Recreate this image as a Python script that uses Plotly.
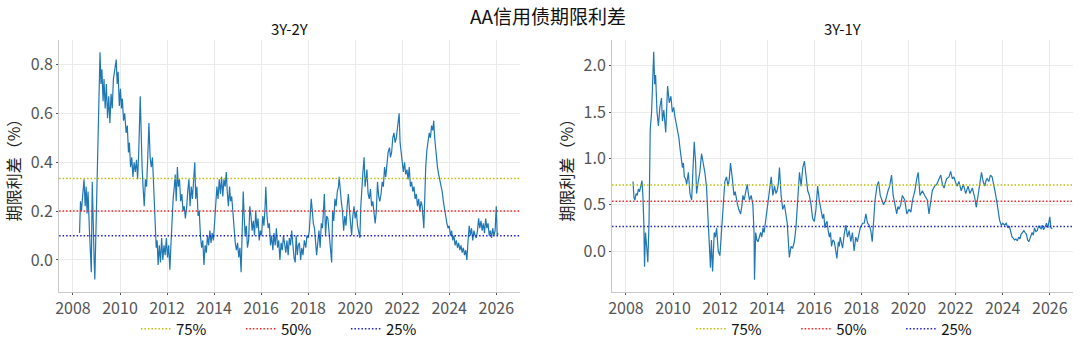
import plotly.graph_objects as go

# ---------------- data ----------------
title_main = "AA信用债期限利差"
panel_titles = ["3Y-2Y", "3Y-1Y"]
y_title = "期限利差（%）"
pct_names = ["75%", "50%", "25%"]
pct_colors = ["#bfbf00", "#ff2020", "#2020d0"]

# percentile levels
pct_left = [0.333, 0.200, 0.099]
pct_right = [0.712, 0.536, 0.266]

# 3Y-2Y (decimal year, %)
left_x = [
    2008.28, 2008.32, 2008.36, 2008.42, 2008.47, 2008.52, 2008.56, 2008.60, 2008.64, 2008.70,
    2008.74, 2008.78, 2008.82, 2008.86, 2008.90, 2008.93, 2008.97, 2009.02, 2009.06, 2009.10,
    2009.15, 2009.19, 2009.23, 2009.28, 2009.32, 2009.37, 2009.42, 2009.47, 2009.52, 2009.57,
    2009.62, 2009.67, 2009.72, 2009.78, 2009.84, 2009.88, 2009.92, 2009.97, 2010.02, 2010.06,
    2010.10, 2010.15, 2010.20, 2010.26, 2010.31, 2010.36, 2010.40, 2010.45, 2010.50, 2010.55,
    2010.60, 2010.65, 2010.70, 2010.75, 2010.80, 2010.86, 2010.90, 2010.94, 2010.98, 2011.03,
    2011.08, 2011.13, 2011.18, 2011.23, 2011.28, 2011.33, 2011.38, 2011.42, 2011.46, 2011.50,
    2011.54, 2011.58, 2011.62, 2011.67, 2011.72, 2011.77, 2011.82, 2011.87, 2011.92, 2011.97,
    2012.02, 2012.07, 2012.12, 2012.16, 2012.21, 2012.26, 2012.31, 2012.35, 2012.39, 2012.44,
    2012.48, 2012.53, 2012.58, 2012.63, 2012.68, 2012.73, 2012.78, 2012.83, 2012.88, 2012.93,
    2012.98, 2013.03, 2013.08, 2013.13, 2013.18, 2013.22, 2013.27, 2013.32, 2013.37, 2013.42,
    2013.47, 2013.52, 2013.57, 2013.62, 2013.67, 2013.72, 2013.77, 2013.82, 2013.87, 2013.92,
    2013.97, 2014.02, 2014.07, 2014.12, 2014.17, 2014.22, 2014.27, 2014.32, 2014.37, 2014.42,
    2014.47, 2014.52, 2014.56, 2014.61, 2014.66, 2014.70, 2014.75, 2014.80, 2014.85, 2014.90,
    2014.95, 2015.00, 2015.05, 2015.10, 2015.15, 2015.20, 2015.24, 2015.28, 2015.32, 2015.37,
    2015.42, 2015.47, 2015.52, 2015.57, 2015.62, 2015.67, 2015.72, 2015.77, 2015.82, 2015.87,
    2015.92, 2015.97, 2016.02, 2016.07, 2016.12, 2016.17, 2016.20, 2016.25, 2016.30, 2016.35,
    2016.40, 2016.45, 2016.50, 2016.55, 2016.60, 2016.65, 2016.70, 2016.75, 2016.80, 2016.85,
    2016.90, 2016.95, 2017.00, 2017.05, 2017.10, 2017.15, 2017.20, 2017.25, 2017.30, 2017.35,
    2017.40, 2017.45, 2017.49, 2017.54, 2017.58, 2017.63, 2017.68, 2017.73, 2017.78, 2017.84,
    2017.90, 2017.95, 2018.00, 2018.05, 2018.10, 2018.13, 2018.18, 2018.22, 2018.27, 2018.32,
    2018.36, 2018.41, 2018.46, 2018.51, 2018.56, 2018.61, 2018.66, 2018.69, 2018.74, 2018.79,
    2018.84, 2018.89, 2018.95, 2019.00, 2019.04, 2019.09, 2019.14, 2019.19, 2019.24, 2019.29,
    2019.32, 2019.36, 2019.41, 2019.46, 2019.51, 2019.56, 2019.61, 2019.66, 2019.71, 2019.76,
    2019.80, 2019.85, 2019.90, 2019.95, 2020.00, 2020.05, 2020.10, 2020.15, 2020.20, 2020.24,
    2020.28, 2020.33, 2020.38, 2020.42, 2020.46, 2020.50, 2020.55, 2020.60, 2020.65, 2020.70,
    2020.75, 2020.80, 2020.85, 2020.90, 2020.95, 2021.00, 2021.05, 2021.10, 2021.15, 2021.20,
    2021.25, 2021.30, 2021.35, 2021.40, 2021.46, 2021.50, 2021.55, 2021.60, 2021.65, 2021.70,
    2021.75, 2021.80, 2021.87, 2021.91, 2021.95, 2022.00, 2022.05, 2022.10, 2022.15, 2022.20,
    2022.25, 2022.30, 2022.35, 2022.40, 2022.45, 2022.50, 2022.55, 2022.60, 2022.65, 2022.70,
    2022.75, 2022.80, 2022.85, 2022.92, 2022.96, 2023.00, 2023.05, 2023.10, 2023.15, 2023.20,
    2023.25, 2023.30, 2023.34, 2023.38, 2023.42, 2023.46, 2023.50, 2023.55, 2023.60, 2023.65,
    2023.70, 2023.75, 2023.80, 2023.85, 2023.90, 2023.95, 2024.00, 2024.05, 2024.10, 2024.15,
    2024.20, 2024.25, 2024.30, 2024.35, 2024.40, 2024.45, 2024.50, 2024.55, 2024.60, 2024.65,
    2024.70, 2024.75, 2024.80, 2024.85, 2024.90, 2024.95, 2025.00, 2025.05, 2025.10, 2025.15,
    2025.20, 2025.25, 2025.30, 2025.35, 2025.40, 2025.45, 2025.50, 2025.55, 2025.60, 2025.65,
    2025.70, 2025.75, 2025.80, 2025.85, 2025.90, 2025.95, 2026.00, 2026.04, 2026.08,
]
left_y = [
    0.11, 0.24, 0.20, 0.27, 0.33, 0.22, 0.30, 0.19, 0.28, 0.12,
    0.03, -0.05, 0.32, 0.10, 0.00, -0.08, 0.10, 0.36, 0.52, 0.73,
    0.85, 0.72, 0.78, 0.65, 0.74, 0.62, 0.72, 0.58, 0.67, 0.56,
    0.68, 0.62, 0.74, 0.78, 0.82, 0.72, 0.77, 0.63, 0.70, 0.62,
    0.66, 0.57, 0.60, 0.52, 0.55, 0.44, 0.48, 0.38, 0.42, 0.34,
    0.40, 0.36, 0.41, 0.33, 0.45, 0.67, 0.50, 0.38, 0.30, 0.22,
    0.33, 0.30, 0.42, 0.56, 0.42, 0.38, 0.42, 0.33, 0.25, 0.12,
    0.05, 0.08, -0.02, 0.06, -0.01, 0.09, 0.00, 0.06, 0.02, 0.09,
    0.01, 0.06, -0.04, 0.05, 0.18, 0.25, 0.30, 0.35, 0.24, 0.38,
    0.30, 0.33, 0.24, 0.27, 0.20, 0.22, 0.17, 0.21, 0.28, 0.33,
    0.22, 0.30, 0.25, 0.35, 0.40, 0.25, 0.30, 0.18, 0.20, 0.10,
    0.05, 0.08, -0.02, 0.06, 0.03, 0.10, 0.06, 0.12, 0.07, 0.11,
    0.08, 0.15, 0.22, 0.30, 0.25, 0.33, 0.27, 0.34, 0.26, 0.33,
    0.30, 0.36, 0.28, 0.22, 0.30, 0.24, 0.26, 0.18, 0.12, 0.07,
    0.04, 0.07, 0.01, 0.05, -0.05, 0.10, 0.28, 0.18, 0.10, 0.14,
    0.05, 0.08, 0.22, 0.18, 0.12, 0.16, 0.10, 0.20, 0.13, 0.17,
    0.08, 0.12, 0.10, 0.18, 0.14, 0.22, 0.30, 0.18, 0.13, 0.15,
    0.06, 0.10, 0.04, 0.11, 0.06, 0.13, 0.05, 0.08, 0.00, 0.07,
    0.04, 0.10, 0.05, 0.03, 0.08, 0.02, 0.09, 0.06, 0.12, 0.05,
    0.01, -0.01, 0.10, 0.02, 0.06, 0.07, 0.00, 0.05, 0.02, 0.08,
    0.05, 0.10, 0.09, 0.12, 0.20, 0.25, 0.20, 0.15, 0.13, 0.06,
    0.02, 0.07, 0.12, 0.05, 0.15, 0.13, 0.20, 0.27, 0.10, 0.18,
    0.17, 0.12, 0.05, -0.01, 0.20, 0.16, 0.25, 0.22, 0.28, 0.30,
    0.34, 0.28, 0.24, 0.20, 0.12, 0.18, 0.14, 0.22, 0.27, 0.20,
    0.16, 0.10, 0.18, 0.22, 0.17, 0.20, 0.14, 0.12, 0.09, 0.22,
    0.30, 0.36, 0.42, 0.30, 0.33, 0.37, 0.27, 0.25, 0.29, 0.22,
    0.24, 0.18, 0.15, 0.20, 0.32, 0.26, 0.24, 0.27, 0.32, 0.30,
    0.38, 0.34, 0.40, 0.44, 0.46, 0.42, 0.44, 0.50, 0.52, 0.48,
    0.50, 0.55, 0.60, 0.48, 0.44, 0.40, 0.36, 0.40, 0.35, 0.37,
    0.33, 0.38, 0.30, 0.32, 0.28, 0.30, 0.25, 0.27, 0.22, 0.25,
    0.20, 0.24, 0.22, 0.13, 0.30, 0.38, 0.45, 0.48, 0.52, 0.50,
    0.55, 0.53, 0.57, 0.50, 0.45, 0.40, 0.38, 0.35, 0.33, 0.30,
    0.28, 0.24, 0.20, 0.18, 0.15, 0.13, 0.14, 0.10, 0.12, 0.08,
    0.10, 0.06, 0.08, 0.05, 0.07, 0.04, 0.06, 0.03, 0.05, 0.02,
    0.04, 0.00, 0.08, 0.14, 0.10, 0.13, 0.08, 0.12, 0.10, 0.09,
    0.12, 0.17, 0.13, 0.16, 0.12, 0.15, 0.11, 0.17, 0.13, 0.15,
    0.10, 0.12, 0.09, 0.13, 0.10, 0.12, 0.22, 0.10, 0.11,
]

# 3Y-1Y (decimal year, %)
right_x = [
    2008.30, 2008.34, 2008.38, 2008.43, 2008.48, 2008.53, 2008.58, 2008.63, 2008.68, 2008.72,
    2008.76, 2008.79, 2008.83, 2008.88, 2008.93, 2008.98, 2009.03, 2009.09, 2009.13, 2009.18,
    2009.22, 2009.26, 2009.32, 2009.38, 2009.44, 2009.51, 2009.55, 2009.61, 2009.69, 2009.77,
    2009.84, 2009.91, 2009.97, 2010.03, 2010.08, 2010.14, 2010.20, 2010.25, 2010.30, 2010.35,
    2010.40, 2010.44, 2010.48, 2010.53, 2010.58, 2010.65,
    2010.72, 2010.79, 2010.86, 2010.90, 2010.96, 2011.00, 2011.07, 2011.14, 2011.21, 2011.28,
    2011.35, 2011.42, 2011.49, 2011.55, 2011.59, 2011.63, 2011.68, 2011.75, 2011.80, 2011.85,
    2011.92, 2011.99, 2012.06, 2012.13, 2012.20, 2012.27, 2012.34, 2012.39, 2012.44, 2012.51, 2012.55,
    2012.59, 2012.64, 2012.69, 2012.74, 2012.79, 2012.87, 2012.92, 2012.97, 2013.02, 2013.07, 2013.15,
    2013.20, 2013.25, 2013.32, 2013.39, 2013.44,
    2013.46, 2013.51, 2013.56, 2013.61, 2013.67, 2013.72, 2013.77, 2013.82, 2013.87, 2013.92,
    2013.98, 2014.04, 2014.11, 2014.17, 2014.24,
    2014.31, 2014.37, 2014.42, 2014.47, 2014.52, 2014.59, 2014.66, 2014.73, 2014.79, 2014.85, 2014.94,
    2015.01, 2015.08,
    2015.15, 2015.22, 2015.30, 2015.37, 2015.44, 2015.51, 2015.58, 2015.65, 2015.72, 2015.79,
    2015.86, 2015.93, 2016.00, 2016.07, 2016.14, 2016.21, 2016.28, 2016.35, 2016.40, 2016.45, 2016.50,
    2016.54, 2016.59, 2016.64, 2016.69, 2016.73, 2016.79, 2016.85, 2016.90, 2016.96, 2017.02, 2017.06,
    2017.10, 2017.15, 2017.20, 2017.27, 2017.34, 2017.41,
    2017.48, 2017.55, 2017.62, 2017.69, 2017.76, 2017.83, 2017.89, 2017.95, 2018.05, 2018.12, 2018.19,
    2018.26, 2018.33, 2018.40, 2018.46, 2018.51, 2018.58, 2018.66, 2018.73, 2018.80, 2018.87,
    2018.94, 2019.03, 2019.08, 2019.13, 2019.20, 2019.28, 2019.35, 2019.42, 2019.50, 2019.55, 2019.60,
    2019.67, 2019.74, 2019.84, 2019.93, 2020.02, 2020.10, 2020.17, 2020.27, 2020.35, 2020.41, 2020.49,
    2020.59, 2020.69, 2020.80, 2020.87, 2020.94, 2021.01, 2021.11, 2021.20, 2021.30, 2021.37,
    2021.44, 2021.51, 2021.57, 2021.62, 2021.72, 2021.79, 2021.86, 2021.93, 2022.00, 2022.07, 2022.14,
    2022.19, 2022.24, 2022.33, 2022.38, 2022.43, 2022.53, 2022.61, 2022.71, 2022.81, 2022.88, 2022.95,
    2023.03, 2023.10, 2023.17, 2023.24, 2023.29, 2023.34, 2023.41, 2023.48, 2023.55, 2023.60, 2023.67,
    2023.74, 2023.80, 2023.87, 2023.94, 2024.01, 2024.08, 2024.15, 2024.22, 2024.28, 2024.33, 2024.40,
    2024.45, 2024.50, 2024.56, 2024.62, 2024.68, 2024.73, 2024.78, 2024.83, 2024.90, 2024.95, 2025.01,
    2025.06, 2025.11, 2025.18, 2025.25, 2025.30, 2025.35, 2025.41, 2025.47, 2025.52, 2025.58, 2025.63,
    2025.68, 2025.73, 2025.78, 2025.86, 2025.92, 2026.00, 2026.05, 2026.11,
]
right_y = [
    0.75, 0.58, 0.55, 0.62, 0.60, 0.67, 0.64, 0.70, 0.76, 0.60,
    0.30, -0.17, 0.20, 0.05, -0.12, 0.30, 1.30, 1.50, 1.80, 2.15,
    1.80, 1.90, 1.50, 1.35, 1.55, 1.65, 1.40, 1.52, 1.28, 1.78,
    1.60, 1.67, 1.50, 1.55, 1.45, 1.38, 1.30, 1.22, 1.10, 1.02,
    0.90, 0.95, 0.80, 0.78, 0.72, 0.85,
    0.62, 0.55, 1.10, 1.18, 0.95, 0.62, 0.75, 0.85, 1.05, 0.95,
    0.85, 0.70, 0.30, -0.05, -0.18, 0.12, -0.22, 0.20, 0.15, 0.25,
    0.00, -0.05, 0.20, 0.50, 0.75, 0.80, 0.70, 0.78, 0.95, 0.80, 0.68,
    0.60, 0.64, 0.55, 0.50, 0.45, 0.40, 0.48, 0.60, 0.55, 0.62, 0.72,
    0.62, 0.55, 0.60, 0.50, 0.20,
    -0.31, 0.20, 0.12, 0.10, 0.17, 0.20, 0.15, 0.25, 0.20, 0.30,
    0.38, 0.50, 0.70, 0.80, 0.60,
    0.70, 0.62, 0.65, 0.72, 0.90, 0.60, 0.45, 0.50, 0.40, 0.30, -0.07,
    0.05, 0.03,
    0.10, 0.25, 0.55, 0.85, 0.70, 0.90, 0.97, 0.80, 0.65, 0.60,
    0.50, 0.35, 0.32, 0.45, 0.70, 0.55, 0.45, 0.35, 0.40, 0.25, 0.30,
    0.32, 0.22, 0.15, 0.20, 0.05, 0.12, 0.10, 0.02, -0.08, 0.10, 0.05,
    0.15, 0.08, 0.03, 0.18, 0.28, 0.15,
    0.22, 0.10, 0.20, 0.00, 0.15, 0.10, 0.18, 0.25, 0.30, 0.30, 0.40,
    0.30, 0.28, 0.22, 0.10, 0.35, 0.55, 0.70, 0.75, 0.60, 0.55,
    0.50, 0.55, 0.62, 0.65, 0.70, 0.82, 0.60, 0.50, 0.40, 0.48, 0.45,
    0.50, 0.60, 0.55, 0.40, 0.45, 0.42, 0.55, 0.65, 0.78, 0.85, 0.60,
    0.65, 0.60, 0.55, 0.40, 0.55, 0.65, 0.70, 0.72, 0.78, 0.82,
    0.72, 0.68, 0.74, 0.78, 0.80, 0.86, 0.78, 0.80, 0.74, 0.70, 0.75,
    0.68, 0.65, 0.72, 0.66, 0.62, 0.70, 0.62, 0.68, 0.58, 0.47, 0.60,
    0.70, 0.85, 0.75, 0.70, 0.76, 0.78, 0.75, 0.82, 0.80, 0.72, 0.65,
    0.55, 0.45, 0.33, 0.28, 0.30, 0.28, 0.30, 0.25, 0.27, 0.22, 0.15,
    0.14, 0.12, 0.13, 0.11, 0.15, 0.13, 0.18, 0.20, 0.22, 0.20, 0.18,
    0.12, 0.10, 0.15, 0.20, 0.17, 0.25, 0.21, 0.22, 0.27, 0.25, 0.24,
    0.28, 0.23, 0.25, 0.30, 0.25, 0.37, 0.25, 0.24,
]

# ---------------- figure ----------------
W, H = 1080, 350
FONT = "Noto Sans CJK SC"
x_range = [2007.41, 2027.0]
left_range = [-0.131, 0.90]
right_range = [-0.442, 2.277]

fig = go.Figure()

panels = [
    dict(xs=left_x, ys=left_y, pct=pct_left, xa="x", ya="y", legend="legend"),
    dict(xs=right_x, ys=right_y, pct=pct_right, xa="x2", ya="y2", legend="legend2"),
]
for p in panels:
    fig.add_trace(go.Scatter(
        x=p["xs"], y=p["ys"], mode="lines", xaxis=p["xa"], yaxis=p["ya"],
        line=dict(color="#1f77b4", width=1.2), showlegend=False, hoverinfo="skip"))
    for name, val, col in zip(pct_names, p["pct"], pct_colors):
        fig.add_trace(go.Scatter(
            x=x_range, y=[val, val], mode="lines", name=name,
            xaxis=p["xa"], yaxis=p["ya"], legend=p["legend"],
            line=dict(color=col, width=1.5, dash="1.5px,2px"), hoverinfo="skip"))

dom_l = [55.3 / W, 517.7 / W]
dom_r = [610.3 / W, 1073.3 / W]
dom_y = [1 - 292 / H, 1 - 40 / H]

axis_common = dict(
    showgrid=True, gridcolor="#ebebeb", gridwidth=1,
    showline=True, linecolor="#c8c8c8", linewidth=1,
    ticks="outside", ticklen=2, tickcolor="#555555",
    tickfont=dict(family=FONT, size=16, color="#555555"),
    zeroline=False,
)

legend_common = dict(
    orientation="h", xanchor="center", y=1 - 329 / H, yanchor="middle",
    font=dict(family=FONT, size=15, color="#111111"),
    entrywidth=60, entrywidthmode="pixels", bgcolor="rgba(0,0,0,0)",
)

fig.update_layout(
    width=W, height=H,
    margin=dict(l=0, r=0, t=0, b=0),
    paper_bgcolor="white", plot_bgcolor="white",
    font=dict(family=FONT, size=14, color="#222222"),
    xaxis=dict(domain=dom_l, range=x_range, dtick=2, tick0=2008, anchor="y", **axis_common),
    yaxis=dict(domain=dom_y, range=left_range, dtick=0.2, tick0=0, tickformat=".1f", anchor="x",
               title=dict(text=y_title, font=dict(family=FONT, size=16, color="#222222"), standoff=6),
               **axis_common),
    xaxis2=dict(domain=dom_r, range=x_range, dtick=2, tick0=2008, anchor="y2", **axis_common),
    yaxis2=dict(domain=dom_y, range=right_range, dtick=0.5, tick0=0, tickformat=".1f", anchor="x2",
                title=dict(text=y_title, font=dict(family=FONT, size=16, color="#222222"), standoff=6),
                **axis_common),
    legend=dict(x=(dom_l[0] + dom_l[1]) / 2 + 4 / W, **legend_common),
    legend2=dict(x=(dom_r[0] + dom_r[1]) / 2 + 6 / W, **legend_common),
    annotations=[
        dict(text=title_main, x=0.506, y=1 - 16 / H, xref="paper", yref="paper",
             showarrow=False, font=dict(family=FONT, size=19, color="#111111"),
             xanchor="center", yanchor="middle"),
        dict(text=panel_titles[0], x=(dom_l[0] + dom_l[1]) / 2, y=1 - 29 / H, xref="paper", yref="paper",
             showarrow=False, font=dict(family=FONT, size=15, color="#111111"),
             xanchor="center", yanchor="middle"),
        dict(text=panel_titles[1], x=(dom_r[0] + dom_r[1]) / 2, y=1 - 29 / H, xref="paper", yref="paper",
             showarrow=False, font=dict(family=FONT, size=15, color="#111111"),
             xanchor="center", yanchor="middle"),
    ],
)

fig.write_html("out.html")
